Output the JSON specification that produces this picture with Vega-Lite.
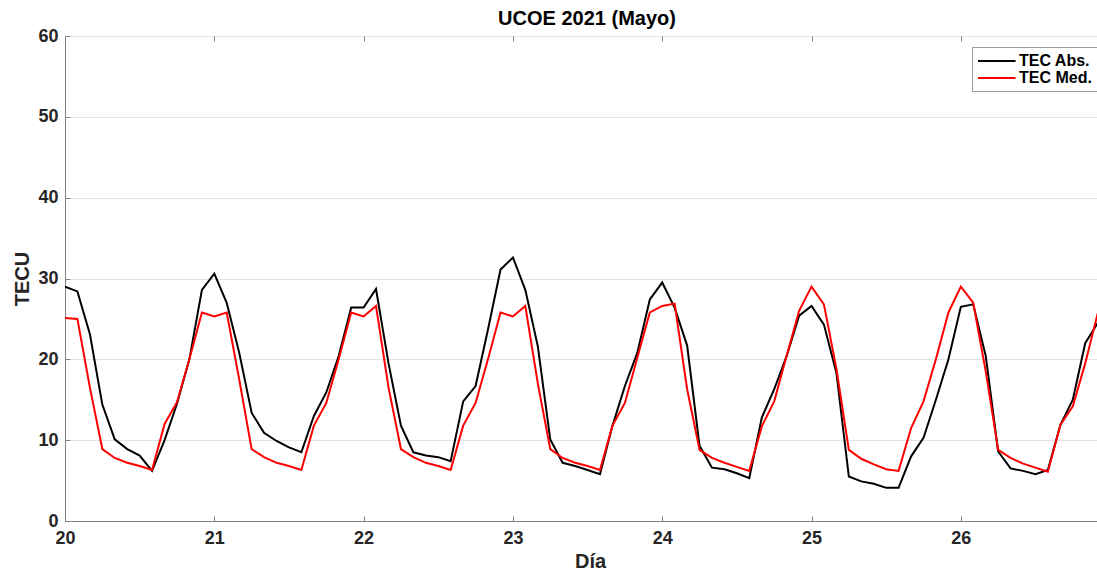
{
  "$schema": "https://vega.github.io/schema/vega-lite/v6.json",
  "width": 1032,
  "height": 485,
  "autosize": "none",
  "padding": {"left": 65, "top": 36, "right": 0, "bottom": 51},
  "background": "white",
  "title": {"text": "UCOE 2021 (Mayo)", "font": "Liberation Sans", "fontSize": 20, "fontWeight": "bold", "color": "#000000", "offset": -2, "dx": 6},
  "config": {
    "view": {"stroke": "#808080", "strokeWidth": 1},
    "axis": {"labelFont": "Liberation Sans", "labelFontSize": 18, "labelFontWeight": "bold", "labelColor": "#262626", "titleFont": "Liberation Sans", "titleFontSize": 20, "titleFontWeight": "bold", "titleColor": "#262626", "domainColor": "#808080", "tickColor": "#808080", "gridColor": "#e3e3e3", "labelFlush": false}
  },
  "data": {"values": [
    {"d": 20.000, "abs": 29.0, "med": 25.1},
    {"d": 20.083, "abs": 28.4, "med": 25.0},
    {"d": 20.167, "abs": 23.1, "med": 16.5},
    {"d": 20.250, "abs": 14.4, "med": 8.9},
    {"d": 20.333, "abs": 10.1, "med": 7.8},
    {"d": 20.417, "abs": 8.9, "med": 7.2},
    {"d": 20.500, "abs": 8.1, "med": 6.8},
    {"d": 20.583, "abs": 6.2, "med": 6.3},
    {"d": 20.667, "abs": 10.0, "med": 12.0},
    {"d": 20.750, "abs": 14.5, "med": 14.7},
    {"d": 20.833, "abs": 20.0, "med": 20.0},
    {"d": 20.917, "abs": 28.6, "med": 25.8},
    {"d": 21.000, "abs": 30.6, "med": 25.3},
    {"d": 21.083, "abs": 27.0, "med": 25.8},
    {"d": 21.167, "abs": 20.8, "med": 17.5},
    {"d": 21.250, "abs": 13.4, "med": 8.9},
    {"d": 21.333, "abs": 10.9, "med": 7.9},
    {"d": 21.417, "abs": 9.9, "med": 7.2},
    {"d": 21.500, "abs": 9.1, "med": 6.8},
    {"d": 21.583, "abs": 8.5, "med": 6.3},
    {"d": 21.667, "abs": 13.0, "med": 11.8},
    {"d": 21.750, "abs": 15.9, "med": 14.6},
    {"d": 21.833, "abs": 20.4, "med": 20.0},
    {"d": 21.917, "abs": 26.4, "med": 25.8},
    {"d": 22.000, "abs": 26.4, "med": 25.3},
    {"d": 22.083, "abs": 28.7, "med": 26.6},
    {"d": 22.167, "abs": 19.5, "med": 16.5},
    {"d": 22.250, "abs": 11.8, "med": 8.9},
    {"d": 22.333, "abs": 8.5, "med": 7.9},
    {"d": 22.417, "abs": 8.1, "med": 7.2},
    {"d": 22.500, "abs": 7.9, "med": 6.8},
    {"d": 22.583, "abs": 7.4, "med": 6.3},
    {"d": 22.667, "abs": 14.8, "med": 11.8},
    {"d": 22.750, "abs": 16.7, "med": 14.6},
    {"d": 22.833, "abs": 23.7, "med": 20.0},
    {"d": 22.917, "abs": 31.1, "med": 25.8},
    {"d": 23.000, "abs": 32.6, "med": 25.3},
    {"d": 23.083, "abs": 28.6, "med": 26.6},
    {"d": 23.167, "abs": 21.6, "med": 17.0},
    {"d": 23.250, "abs": 10.1, "med": 8.9},
    {"d": 23.333, "abs": 7.2, "med": 7.8},
    {"d": 23.417, "abs": 6.8, "med": 7.2},
    {"d": 23.500, "abs": 6.3, "med": 6.8},
    {"d": 23.583, "abs": 5.8, "med": 6.3},
    {"d": 23.667, "abs": 11.8, "med": 11.8},
    {"d": 23.750, "abs": 16.7, "med": 14.6},
    {"d": 23.833, "abs": 20.8, "med": 20.2},
    {"d": 23.917, "abs": 27.4, "med": 25.8},
    {"d": 24.000, "abs": 29.5, "med": 26.6},
    {"d": 24.083, "abs": 26.4, "med": 26.9},
    {"d": 24.167, "abs": 21.7, "med": 16.3},
    {"d": 24.250, "abs": 9.3, "med": 8.8},
    {"d": 24.333, "abs": 6.6, "med": 7.8},
    {"d": 24.417, "abs": 6.4, "med": 7.2},
    {"d": 24.500, "abs": 5.9, "med": 6.7},
    {"d": 24.583, "abs": 5.3, "med": 6.2},
    {"d": 24.667, "abs": 12.8, "med": 11.7},
    {"d": 24.750, "abs": 16.3, "med": 14.8},
    {"d": 24.833, "abs": 20.4, "med": 20.4},
    {"d": 24.917, "abs": 25.4, "med": 26.0},
    {"d": 25.000, "abs": 26.6, "med": 29.0},
    {"d": 25.083, "abs": 24.3, "med": 26.8},
    {"d": 25.167, "abs": 18.3, "med": 18.8},
    {"d": 25.250, "abs": 5.5, "med": 8.8},
    {"d": 25.333, "abs": 4.9, "med": 7.7},
    {"d": 25.417, "abs": 4.6, "med": 7.0},
    {"d": 25.500, "abs": 4.1, "med": 6.4},
    {"d": 25.583, "abs": 4.1, "med": 6.2},
    {"d": 25.667, "abs": 8.0, "med": 11.5},
    {"d": 25.750, "abs": 10.3, "med": 14.8},
    {"d": 25.833, "abs": 15.0, "med": 20.0},
    {"d": 25.917, "abs": 20.0, "med": 25.8},
    {"d": 26.000, "abs": 26.5, "med": 29.0},
    {"d": 26.083, "abs": 26.8, "med": 27.0},
    {"d": 26.167, "abs": 20.4, "med": 18.5},
    {"d": 26.250, "abs": 8.6, "med": 8.8},
    {"d": 26.333, "abs": 6.5, "med": 7.8},
    {"d": 26.417, "abs": 6.2, "med": 7.1},
    {"d": 26.500, "abs": 5.8, "med": 6.6},
    {"d": 26.583, "abs": 6.3, "med": 6.1},
    {"d": 26.667, "abs": 11.9, "med": 11.9},
    {"d": 26.750, "abs": 15.0, "med": 14.2},
    {"d": 26.833, "abs": 22.0, "med": 19.5},
    {"d": 26.917, "abs": 24.5, "med": 25.7}
  ]},
  "transform": [
    {"fold": ["abs", "med"], "as": ["key", "value"]},
    {"lookup": "key", "from": {"data": {"values": [{"key": "abs", "serie": "TEC Abs."}, {"key": "med", "serie": "TEC Med."}]}, "key": "key", "fields": ["serie"]}}
  ],
  "layer": [
    {
      "mark": {"type": "line", "strokeWidth": 2, "clip": true},
      "encoding": {
        "x": {"field": "d", "type": "quantitative", "scale": {"domain": [20, 26.912], "nice": false, "zero": false},
              "axis": {"title": "Día", "values": [20, 21, 22, 23, 24, 25, 26], "format": "d", "grid": false, "tickSize": -5, "labelPadding": 13, "titlePadding": 4, "titleX": 525}},
        "y": {"field": "value", "type": "quantitative", "scale": {"domain": [0, 60], "nice": false},
              "axis": {"title": "TECU", "values": [0, 10, 20, 30, 40, 50, 60], "grid": true, "tickSize": -5, "labelPadding": 12, "titlePadding": 5}},
        "color": {"field": "serie", "type": "nominal", "scale": {"domain": ["TEC Abs.", "TEC Med."], "range": ["#000000", "#ff0000"]},
                  "legend": {"title": null, "orient": "none", "legendX": 907, "legendY": 11, "symbolType": "M-1,0H3.7", "symbolSize": 256, "symbolStrokeWidth": 2, "symbolFillColor": "transparent", "labelFont": "Liberation Sans", "labelFontSize": 16, "labelFontWeight": "bold", "labelColor": "#000000", "strokeColor": "#999999", "fillColor": "white", "padding": 5, "rowPadding": 0, "labelOffset": 24}},
        "detail": {"field": "serie"}
      }
    },
    {
      "mark": {"type": "rule", "opacity": 0},
      "encoding": {
        "x": {"field": "d", "type": "quantitative", "axis": {"orient": "top", "title": null, "labels": false, "values": [20, 21, 22, 23, 24, 25, 26], "grid": false, "tickSize": -5, "domain": false}}
      }
    }
  ],
  "resolve": {"axis": {"x": "independent"}}
}
